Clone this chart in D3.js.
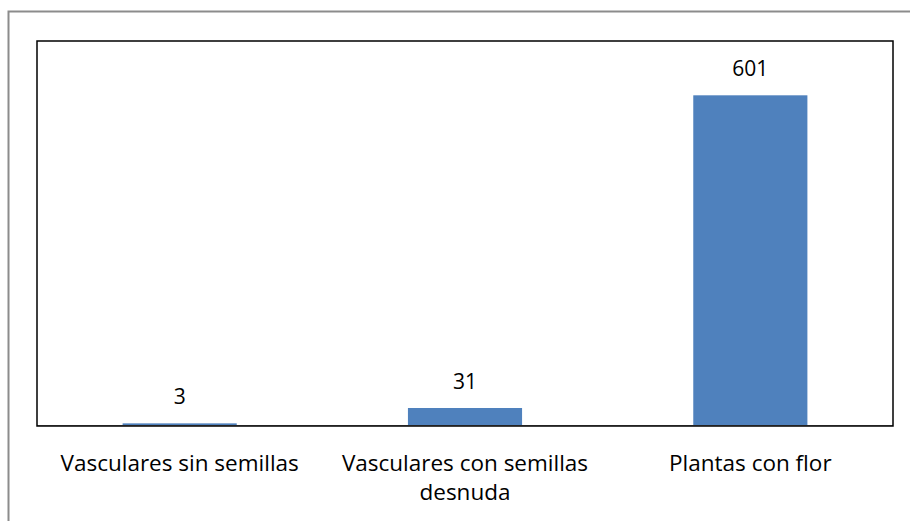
<!doctype html>
<html lang="es">
<head>
<meta charset="utf-8">
<title>Plantas</title>
<script src="https://d3js.org/d3.v7.min.js"></script>
<style>
  body { margin: 0; background: #fff; }
  text { font-family: "Open Sans", sans-serif; fill: #000; }
</style>
</head>
<body>
<svg id="chart" width="910" height="521"></svg>
<script>
var categories = [["Vasculares sin semillas"], ["Vasculares con semillas", "desnuda"], ["Plantas con flor"]];
var values = [3, 31, 601];
var yMax = 700;

var svg = d3.select("#chart");
var margin = {left: 37, top: 41, right: 17, bottom: 96};
var width = 910, height = 521;

// outer frame (only top/left visible)
svg.append("rect")
   .attr("x", 8.5).attr("y", 11.5)
   .attr("width", 920).attr("height", 540)
   .attr("fill", "none").attr("stroke", "#8c8c8c").attr("stroke-width", 2);

var x = d3.scaleBand()
   .domain(d3.range(values.length))
   .range([margin.left, width - margin.right])
   .paddingInner(0.6).paddingOuter(0.3);

var y = d3.scaleLinear().domain([0, yMax]).range([height - margin.bottom, margin.top]);

svg.append("g").selectAll("rect")
   .data(values)
   .enter().append("rect")
   .attr("x", function(d, i) { return x(i); })
   .attr("y", function(d) { return y(d); })
   .attr("width", x.bandwidth())
   .attr("height", function(d) { return y(0) - y(d); })
   .attr("fill", "#4f81bd");

// axis line
svg.append("line")
   .attr("x1", margin.left).attr("x2", width - margin.right)
   .attr("y1", y(0) + 0.5).attr("y2", y(0) + 0.5)
   .attr("stroke", "#868686").attr("stroke-width", 1);

// plot box
svg.append("rect")
   .attr("x", margin.left).attr("y", margin.top)
   .attr("width", width - margin.left - margin.right)
   .attr("height", y(0) - margin.top + 1)
   .attr("fill", "none").attr("stroke", "#000").attr("stroke-width", 1.5);

svg.append("g").selectAll("text")
   .data(values)
   .enter().append("text")
   .attr("x", function(d, i) { return x(i) + x.bandwidth() / 2; })
   .attr("y", function(d) { return y(d) - 19; })
   .attr("text-anchor", "middle")
   .attr("font-size", 21)
   .text(function(d) { return d; });

var labels = svg.append("g").selectAll("text")
   .data(categories)
   .enter().append("text")
   .attr("x", function(d, i) { return x(i) + x.bandwidth() / 2; })
   .attr("y", 471)
   .attr("text-anchor", "middle")
   .attr("font-size", 22.5);

labels.selectAll("tspan")
   .data(function(d, i) { return d.map(function(s) { return {s: s, i: i}; }); })
   .enter().append("tspan")
   .attr("x", function(d) { return x(d.i) + x.bandwidth() / 2; })
   .attr("dy", function(d, j) { return j === 0 ? 0 : 29; })
   .text(function(d) { return d.s; });
</script>
</body>
</html>
